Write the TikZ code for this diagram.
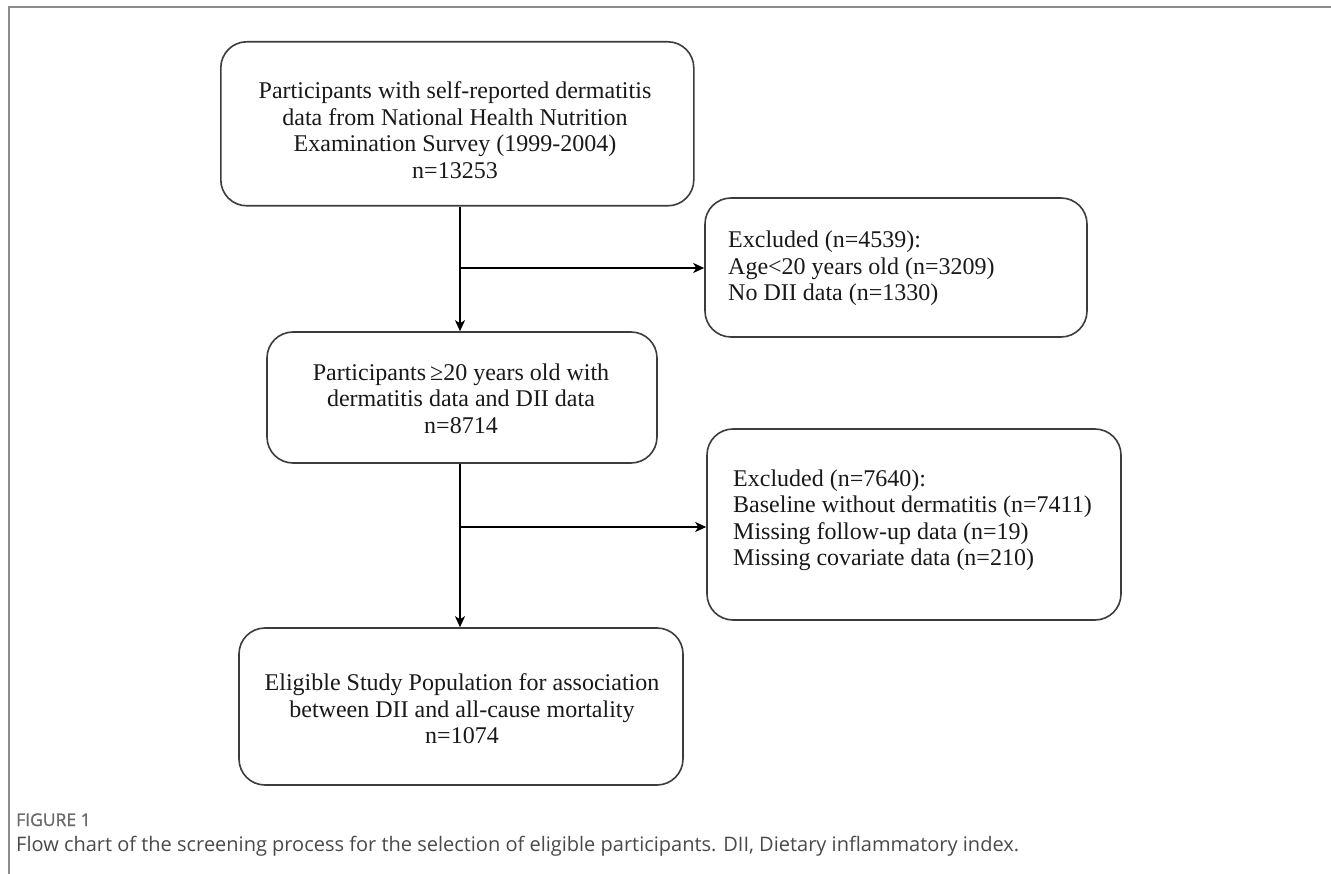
\documentclass[tikz,border=0pt]{standalone}
\usepackage{fontspec}
\setmainfont{Liberation Serif}
\newfontfamily\capfont{Open Sans}
\newfontfamily\figfont{Open Sans}[FakeBold=1.2]
\usetikzlibrary{arrows.meta}
\definecolor{framegray}{HTML}{8C8C8C}
\definecolor{boxgray}{HTML}{3C3C3C}
\definecolor{figgray}{HTML}{6A6A6A}
\definecolor{capgray}{HTML}{4A4A4A}
\begin{document}
\begin{tikzpicture}[x=1pt,y=-1pt,
  box/.style={draw=boxgray, line width=1.6pt, rounded corners=26pt, inner sep=0pt},
  txt/.style={font=\fontsize{24}{26.5}\selectfont, inner sep=0pt, text=black!90},
  flow/.style={draw=black, line width=1.7pt, -{Stealth[length=11pt,width=10pt,inset=3pt]}}]
\useasboundingbox (0,0) rectangle (1331,874);
\fill[white] (0,0) rectangle (1331,874);
\draw[framegray, line width=1.8pt] (1331,7.3) -- (9.3,7.3) -- (9.3,874);

% boxes
\node[box, minimum width=473pt, minimum height=164pt] (b1) at (457.3,123.8) {};
\node[box, minimum width=382pt, minimum height=139pt] (b2) at (896,267.5) {};
\node[box, minimum width=390pt, minimum height=131pt] (b3) at (462,397.5) {};
\node[box, minimum width=414pt, minimum height=191pt] (b4) at (914,524.5) {};
\node[box, minimum width=444pt, minimum height=157pt] (b5) at (461,706.5) {};

% texts
\node[txt, align=center] (t1) at (455,130) {Participants with self-reported dermatitis\\data from National Health Nutrition\\Examination Survey (1999-2004)\\n=13253};
\node[txt, align=left, anchor=west] (t2) at (728,268.3) {Excluded (n=4539):\\Age<20 years old (n=3209)\\No DII data (n=1330)};
\node[txt, align=center] (t3) at (461,398.3) {Participants\,≥20 years old with\\dermatitis data and DII data\\n=8714};
\node[txt, align=left, anchor=west] (t4) at (733,520.5) {Excluded (n=7640):\\Baseline without dermatitis (n=7411)\\Missing follow-up data (n=19)\\Missing covariate data (n=210)};
\node[txt, align=center] (t5) at (462,709) {Eligible Study Population for association\\between DII and all-cause mortality\\n=1074};

% connectors
\coordinate (j1) at (460,268);
\coordinate (j2) at (460,527);
\draw[flow] (b1.south -| j1) -- (b3.north -| j1);
\draw[flow] (j1) -- (b2.west |- j1);
\draw[flow] (b3.south -| j1) -- (b5.north -| j1);
\draw[flow] (j2) -- (b4.west |- j2);

% caption
\node[anchor=base west, inner sep=0pt, text=figgray, font=\figfont\fontsize{17.5}{20}\selectfont] (fig) at (16,826) {FIGURE 1};
\node[anchor=base west, inner sep=0pt, text=capgray, font=\capfont\fontsize{20}{24}\selectfont] (cap) at (16,851) {Flow chart of the screening process for the selection of eligible participants. DII, Dietary inflammatory index.};
\end{tikzpicture}
\end{document}
